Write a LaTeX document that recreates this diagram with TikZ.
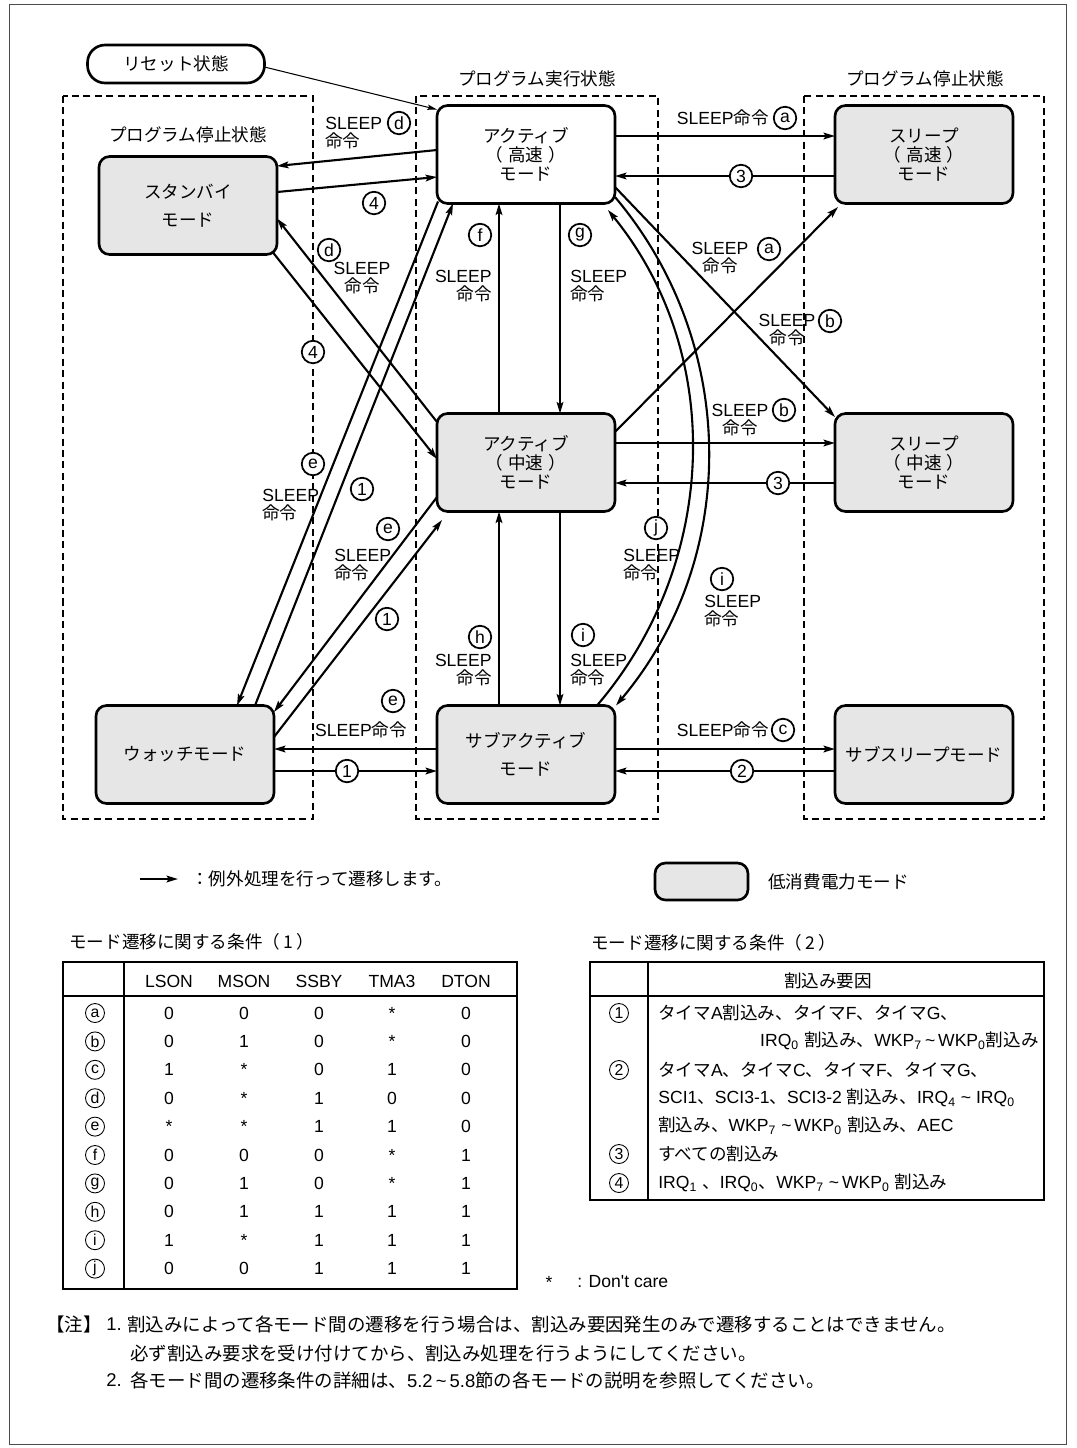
\documentclass[tikz,border=0pt]{standalone}
\usepackage{fontspec}
\setmainfont{Liberation Sans}
\newfontfamily\jp{Noto Sans CJK JP}
\usetikzlibrary{positioning,calc,arrows.meta}
\definecolor{lowgray}{HTML}{E6E6E6}

\begin{document}
\begin{tikzpicture}[x=0.02cm, y=-0.02cm,
  mode/.style={draw, line width=1.5pt, rounded corners=6pt, fill=white,
               minimum width=3.56cm, minimum height=1.96cm, outer sep=0pt,
               align=center, font=\jp\fontsize{10}{11}\selectfont},
  lowpow/.style={mode, fill=lowgray},
  pill/.style={draw, line width=1.5pt, rounded corners=10pt,
               minimum width=3.54cm, minimum height=0.76cm, outer sep=0pt,
               font=\jp\fontsize{10}{11}\selectfont},
  area/.style={draw, line width=0.6pt, dash pattern=on 4pt off 2.5pt},
  title/.style={inner sep=0pt, font=\jp\fontsize{10}{11}\selectfont},
  edge/.style={line width=1.2pt, -{Stealth[length=6.5pt, width=3.8pt, inset=1.2pt]}},
  thinedge/.style={line width=0.6pt, -{Stealth[length=5.5pt, width=3pt, inset=1pt]}},
  % circled condition letter / interrupt number on the diagram
  tag/.style={circle, draw, line width=1pt, fill=white, inner sep=0pt,
              minimum size=0.45cm, font=\fontsize{10}{10}\selectfont},
  cmd/.style={inner sep=0pt, font=\fontsize{10}{10.3}\selectfont},
  % tables
  tabline/.style={line width=0.9pt},
  cell/.style={inner sep=0pt, font=\fontsize{10}{11}\selectfont},
  tcirc/.style={circle, draw, line width=0.5pt, inner sep=0pt,
                minimum size=0.38cm, font=\fontsize{9}{9}\selectfont},
  note/.style={inner sep=0pt, font=\fontsize{10.5}{12}\selectfont},
]
\useasboundingbox (0,0) rectangle (1077,1448);

% page frame
\draw[line width=0.5pt, black!70] (9,4) rectangle (1066,1444);

% State areas
\draw[area] (63,96) rectangle (313,819);
\draw[area] (416,96) rectangle (658,819);
\draw[area] (804,96) rectangle (1044,819);
\node[title] (runlbl) at (537,79) {プログラム実行状態};
\node[title] (stoplblr) at (925,79) {プログラム停止状態};
\node[title] (stoplbll) at (188,135) {プログラム停止状態};

% Modes
\node[pill] (reset) at (176,64) {リセット状態};
\node[lowpow] (stby) at (188,205.5) {スタンバイ\\[5pt]モード};
\node[mode] (acth) at (526,154.5) {アクティブ\\（\kern0.3em 高速\kern0.3em）\\モード};
\node[lowpow] (slph) at (924,154.5) {スリープ\\（\kern0.3em 高速\kern0.3em）\\モード};
\node[lowpow] (actm) at (526,462.5) {アクティブ\\（\kern0.3em 中速\kern0.3em）\\モード};
\node[lowpow] (slpm) at (924,462.5) {スリープ\\（\kern0.3em 中速\kern0.3em）\\モード};
\node[lowpow] (watch) at (185,754.5) {ウォッチモード};
\node[lowpow] (subact) at (526,754.5) {サブアクティブ\\[5pt]モード};
\node[lowpow] (subslp) at (924,754.5) {サブスリープモード};

% Reset
\draw[thinedge] ($(reset.east)+(0,3)$) -- ($(acth.north west)+(0,4)$);

% Standby <-> active
\draw[edge] ($(acth.west)+(0,-4.5)$) -- ($(stby.east)+(0,-39.5)$);
\draw[edge] ($(stby.east)+(0,-13.5)$) -- ($(acth.west)+(0,22.5)$);
\draw[edge] ($(stby.south east)+(-4,-2)$) -- ($(actm.west)+(0,-3.5)$);
\draw[edge] ($(actm.north west)+(0,8.5)$) -- ($(stby.east)+(0,13)$);

% Watch <-> active
\draw[edge] ($(acth.south west)+(1,-2)$) -- ($(watch.north)+(52,0)$);
\draw[edge] ($(watch.north)+(70,0)$) -- ($(acth.south west)+(16,0)$);
\draw[edge] ($(actm.west)+(0,34.5)$) -- ($(watch.east)+(0,-42.5)$);
\draw[edge] ($(watch.east)+(0,-17.5)$) -- ($(actm.south west)+(5,8.5)$);

% Active column (f, g, h, i)
\draw[edge] ($(actm.north)+(-27,0)$) -- ($(acth.south)+(-27,0)$);
\draw[edge] ($(acth.south)+(34,0)$) -- ($(actm.north)+(34,0)$);
\draw[edge] ($(subact.north)+(-27,0)$) -- ($(actm.south)+(-27,0)$);
\draw[edge] ($(actm.south)+(34,0)$) -- ($(subact.north)+(34,0)$);

% Active <-> sleep
\draw[edge] ($(acth.east)+(0,-18.5)$) -- ($(slph.west)+(0,-18.5)$);
\draw[edge] ($(slph.west)+(0,21.5)$) -- ($(acth.east)+(0,21.5)$);
\draw[edge] ($(actm.east)+(0,-30.5)$) -- ($(slph.south west)+(3,3.5)$);
\draw[edge] ($(acth.east)+(0,32.5)$) -- ($(slpm.north west)+(0,3.5)$);
\draw[edge] ($(actm.east)+(0,-19.5)$) -- ($(slpm.west)+(0,-19.5)$);
\draw[edge] ($(slpm.west)+(0,20.5)$) -- ($(actm.east)+(0,20.5)$);

% Subactive <-> subsleep / watch
\draw[edge] ($(subact.east)+(0,-5.5)$) -- ($(subslp.west)+(0,-5.5)$);
\draw[edge] ($(subslp.west)+(0,16.5)$) -- ($(subact.east)+(0,16.5)$);
\draw[edge] ($(subact.west)+(0,-5.5)$) -- ($(watch.east)+(0,-5.5)$);
\draw[edge] ($(watch.east)+(0,16.5)$) -- ($(subact.west)+(0,16.5)$);

% Subactive <-> high-speed active (j, i)
\draw[edge] ($(subact.north east)+(-18,0)$) .. controls (718,564) and (726,355) .. ($(acth.south east)+(-7,6.5)$);
\draw[edge] ($(acth.south east)+(0,-6.5)$) .. controls (739,344) and (740,558) .. ($(subact.north east)+(1,0)$);

% Labels, left part
\node[tag] (td1) at (399,123) {d};
\node[cmd, anchor=west, align=left] (cd1) at (325,133) {SLEEP\\{\jp 命令}};
\node[tag] (t41) at (374,203) {4};
\node[tag] (td2) at (329,250) {d};
\node[cmd, align=center] (cd2) at (362,278) {SLEEP\\{\jp 命令}};
\node[tag] (t42) at (313,352) {4};
\node[tag] (te1) at (313,464) {e};
\node[cmd, anchor=west, align=left] (ce1) at (262,505) {SLEEP\\{\jp 命令}};
\node[tag] (t11) at (362,489) {1};
\node[tag] (te2) at (388,529) {e};
\node[cmd, anchor=west, align=left] (ce2) at (334,565) {SLEEP\\{\jp 命令}};
\node[tag] (t12) at (387,619) {1};
\node[tag] (te3) at (393,701) {e};
\node[cmd] (ce3) at (361,730) {SLEEP{\jp 命令}};
\node[tag] (t13) at (347,771) {1};

% Labels, middle column
\node[tag] (tf) at (480,235) {f};
\node[cmd, anchor=east, align=right] (cf) at (492,286) {SLEEP\\{\jp 命令}};
\node[tag] (tg) at (580,235) {g};
\node[cmd, anchor=west, align=left] (cg) at (570,286) {SLEEP\\{\jp 命令}};
\node[tag] (th) at (480,637) {h};
\node[cmd, anchor=east, align=right] (ch) at (492,670) {SLEEP\\{\jp 命令}};
\node[tag] (ti1) at (583,635) {i};
\node[cmd, anchor=west, align=left] (ci1) at (570,670) {SLEEP\\{\jp 命令}};

% Labels, right part
\node[cmd, anchor=east] (ca1) at (769,118) {SLEEP{\jp 命令}};
\node[tag] (ta1) at (785,118) {a};
\node[tag] (t31) at (741,176) {3};
\node[cmd, align=center] (ca2) at (720,258) {SLEEP\\{\jp 命令}};
\node[tag] (ta2) at (769,249) {a};
\node[cmd, align=center] (cb1) at (787,330) {SLEEP\\{\jp 命令}};
\node[tag] (tb1) at (830,321) {b};
\node[cmd, align=center] (cb2) at (740,420) {SLEEP\\{\jp 命令}};
\node[tag] (tb2) at (784,410) {b};
\node[tag] (t32) at (778,483) {3};
\node[tag] (tj) at (656,528) {j};
\node[cmd, anchor=west, align=left] (cj) at (623,565) {SLEEP\\{\jp 命令}};
\node[tag] (ti2) at (722,579) {i};
\node[cmd, anchor=west, align=left] (ci2) at (704,611) {SLEEP\\{\jp 命令}};
\node[cmd, anchor=east] (cc) at (769,730) {SLEEP{\jp 命令}};
\node[tag] (tc) at (783,730) {c};
\node[tag] (t2) at (742,771) {2};

% Legend
\coordinate (lgA) at (140,879);
\coordinate (lgB) at (178,879);
\draw[edge] (lgA) -- (lgB);
\node[title, anchor=west] (lgtxt) at (191,879) {：例外処理を行って遷移します。};
\node[lowpow, minimum width=1.86cm, minimum height=0.74cm] (lgbox) at (701.5,881.5) {};
\node[title, anchor=west] (lgboxtxt) at (768,882) {低消費電力モード};

% Table 1: register settings
\node[title, anchor=west] (tab1t) at (69,942) {モード遷移に関する条件（\kern0.2em 1\kern0.2em）};
\draw[tabline] (63,962) rectangle (517,1289);
\draw[tabline] (63,996) -- (517,996);
\draw[tabline] (124,962) -- (124,1289);
\foreach \x/\h in {169/LSON,244/MSON,319/SSBY,392/TMA3,466/DTON}
  \node[cell] (hd\h) at (\x,981) {\h};
\foreach \r/\va/\vb/\vc/\vd/\ve [count=\k from 0] in
  {a/0/0/0/*/0, b/0/1/0/*/0, c/1/*/0/1/0, d/0/*/1/0/0, e/*/*/1/1/0,
   f/0/0/0/*/1, g/0/1/0/*/1, h/0/1/1/1/1, i/1/*/1/1/1, j/0/0/1/1/1}{
  \node[tcirc] (row\r) at (95,{1013+28.4*\k}) {\r};
  \foreach \v/\x [count=\c] in {\va/169,\vb/244,\vc/319,\vd/392,\ve/466}
    \node[cell] (v\r\c) at (\x,{1013+28.4*\k}) {\v};
}

% Table 2: interrupt sources
\node[title, anchor=west] (tab2t) at (591,943) {モード遷移に関する条件（\kern0.2em 2\kern0.2em）};
\draw[tabline] (590,962) rectangle (1044,1200);
\draw[tabline] (590,996) -- (1044,996);
\draw[tabline] (648,962) -- (648,1200);
\node[title] (hd2) at (828,981) {割込み要因};
\foreach \n/\y in {1/1013,2/1070,3/1154,4/1183}
  \node[tcirc] (src\n) at (619,\y) {\n};
\node[cell, anchor=west] (s1a) at (658,1013) {{\jp タイマ}A{\jp 割込み、タイマ}F{\jp 、タイマ}G{\jp 、}};
\node[cell, anchor=east] (s1b) at (1039,1041) {IRQ\textsubscript{0} {\jp 割込み、}WKP\textsubscript{7}\,\textasciitilde\,WKP\textsubscript{0}{\jp 割込み}};
\node[cell, anchor=west] (s2a) at (658,1070) {{\jp タイマ}A{\jp 、タイマ}C{\jp 、タイマ}F{\jp 、タイマ}G{\jp 、}};
\node[cell, anchor=west] (s2b) at (658,1098) {SCI1{\jp 、}SCI3-1{\jp 、}SCI3-2 {\jp 割込み、}IRQ\textsubscript{4} \textasciitilde{} IRQ\textsubscript{0}};
\node[cell, anchor=west] (s2c) at (658,1126) {{\jp 割込み、}WKP\textsubscript{7} \textasciitilde\,WKP\textsubscript{0} {\jp 割込み、}AEC};
\node[cell, anchor=west] (s3) at (658,1154) {\jp すべての割込み};
\node[cell, anchor=west] (s4) at (658,1183) {IRQ\textsubscript{1} {\jp 、}IRQ\textsubscript{0}{\jp 、}WKP\textsubscript{7} \textasciitilde\,WKP\textsubscript{0} {\jp 割込み}};
\node[cell] (astk) at (549,1282) {*};
\node[cell, anchor=west] (dcare) at (577,1282) {: Don\textquotesingle t care};

% Notes
\node[note, anchor=west] (n0) at (46,1324) {\jp 【注】};
\node[note, anchor=west] (n1) at (106,1324) {1.};
\node[note, anchor=west] (n1a) at (127,1324) {\jp 割込みによって各モード間の遷移を行う場合は、割込み要因発生のみで遷移することはできません。};
\node[note, anchor=west] (n1b) at (130,1353) {\jp 必ず割込み要求を受け付けてから、割込み処理を行うようにしてください。};
\node[note, anchor=west] (n2) at (106,1380) {2.};
\node[note, anchor=west] (n2a) at (130,1380) {{\jp 各モード間の遷移条件の詳細は、}5.2\,\textasciitilde\,5.8{\jp 節の各モードの説明を参照してください。}};

\end{tikzpicture}
\end{document}
